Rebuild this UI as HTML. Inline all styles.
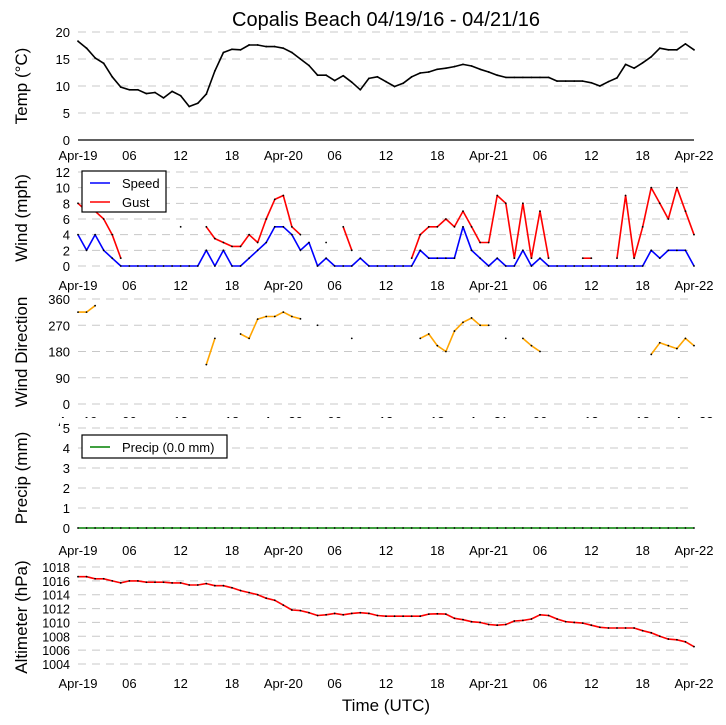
<!DOCTYPE html>
<html><head><meta charset="utf-8"><style>
html,body{margin:0;padding:0;background:#fff;}
svg{display:block;font-family:"Liberation Sans","DejaVu Sans",sans-serif;}
</style></head><body>
<svg id="chart" width="726" height="725" viewBox="0 0 726 725" xmlns="http://www.w3.org/2000/svg">
<rect width="726" height="725" fill="#fff"/>
<text x="386" y="26" font-size="20" text-anchor="middle">Copalis Beach 04/19/16 - 04/21/16</text>
<text x="386" y="711" font-size="17" text-anchor="middle">Time (UTC)</text>
<g id="layer"></g>
</svg>
<script>
// hourly samples, hour 0 = Apr-19 00 UTC, 72 = Apr-22 00 UTC
const xTickLabels = ["Apr-19","06","12","18","Apr-20","06","12","18","Apr-21","06","12","18","Apr-22"];
const temp = [18.3,17,15.2,14.2,11.7,9.8,9.3,9.3,8.6,8.8,7.8,9.0,8.2,6.2,6.8,8.5,12.8,16.2,16.8,16.7,17.6,17.6,17.3,17.3,17,16.2,15,13.8,12,12,11,11.9,10.7,9.3,11.4,11.7,10.8,9.9,10.5,11.7,12.4,12.6,13.1,13.3,13.6,14.0,13.7,13.1,12.6,12,11.6,11.6,11.6,11.6,11.6,11.6,10.9,10.9,10.9,10.9,10.6,10.0,10.8,11.5,14,13.3,14.3,15.4,17,16.7,16.7,17.8,16.7];
const windSpeed = [4,2,4,2,1,0,0,0,0,0,0,0,0,0,0,2,0,2,0,0,1,2,3,5,5,4,2,3,0,1,0,0,0,1,0,0,0,0,0,0,2,1,1,1,1,5,2,1,0,1,0,0,2,0,1,0,0,0,0,0,0,0,0,0,0,0,0,2,1,2,2,2,0];
const windGust = [8,7,7,6,4,1,null,null,null,null,null,null,5,null,null,5,3.5,3,2.5,2.5,4,3,6,8.5,9,5,4,null,null,3,null,5,2,null,null,null,null,null,null,1,4,5,5,6,5,7,5,3,3,9,8,1,8,1,7,1,null,null,null,1,1,null,null,1,9,1,5,10,8,6,10,7,4];
const windDir = [315,315,337,null,null,null,null,null,null,null,null,null,null,null,null,135,225,null,null,240,225,291,300,300,315,300,292,null,270,null,null,null,225,null,null,null,null,null,null,null,225,240,200,180,250,280,295,270,270,null,225,null,225,200,180,null,null,null,null,null,null,null,null,null,null,null,null,170,210,200,190,225,200];
const precip = new Array(73).fill(0);
const altimeter = [1016.6,1016.6,1016.3,1016.3,1016.0,1015.7,1016.0,1016.0,1015.8,1015.8,1015.8,1015.7,1015.7,1015.4,1015.4,1015.6,1015.3,1015.3,1015.0,1014.6,1014.3,1014.0,1013.5,1013.2,1012.5,1011.8,1011.7,1011.4,1011.0,1011.1,1011.3,1011.1,1011.3,1011.4,1011.3,1011.0,1010.9,1010.9,1010.9,1010.9,1010.9,1011.2,1011.25,1011.2,1010.6,1010.4,1010.1,1010.0,1009.7,1009.6,1009.7,1010.2,1010.3,1010.5,1011.1,1011.0,1010.5,1010.1,1010.0,1009.9,1009.6,1009.3,1009.2,1009.2,1009.2,1009.2,1008.8,1008.5,1008.0,1007.6,1007.5,1007.2,1006.5];
const tempTicks=[0,5,10,15,20], windTicks=[0,2,4,6,8,10,12], dirTicks=[0,90,180,270,360], precipTicks=[0,1,2,3,4,5], altTicks=[1004,1006,1008,1010,1012,1014,1016,1018];

const NS="http://www.w3.org/2000/svg";
const layer=document.getElementById('layer');
const X0=78, X1=694;
function xs(h){return X0+(X1-X0)*h/72;}
function mk(tag,attrs,parent){const e=document.createElementNS(NS,tag);for(const k in attrs)e.setAttribute(k,attrs[k]);(parent||layer).appendChild(e);return e;}
function scaleY(v0,v1,y0,y1){return v=>y0+(v-v0)*(y1-y0)/(v1-v0);}

function panel(name,ticks,ys,titleText,titleY,labelY,fs){
  const g=mk('g',{});
  
  
  ticks.forEach(t=>{
    const l=mk('line',{x1:X0,x2:X1,y1:ys(t),y2:ys(t),stroke:'#c8c8c8','stroke-width':1,'stroke-dasharray':'8,6'},g);
    
    
    const tx=mk('text',{x:70,y:ys(t)+5,'font-size':fs||13,'text-anchor':'end'},g);
    
    
    tx.textContent=t;
  });
  const tt=mk('text',{x:0,y:0,'font-size':17,'text-anchor':'middle',transform:'translate(27,'+titleY+') rotate(-90)'},g);
  
  
  tt.textContent=titleText;
  if(labelY!==null){
    xTickLabels.forEach((s,i)=>{
      const t=mk('text',{x:xs(i*6),y:labelY,'font-size':13,'text-anchor':'middle'},g);
      
      
      t.textContent=s;
    });
  }
  return g;
}
function series(name,data,ys,color){
  const g=mk('g',{});
  
  
  let seg=[];
  const flush=()=>{ if(seg.length>1){const p=mk('polyline',{points:seg.join(' '),fill:'none',stroke:color,'stroke-width':1.6,'stroke-linejoin':'round'},g);
      
      } seg=[]; };
  data.forEach((v,i)=>{ if(v===null||v===undefined){flush();return;} seg.push(xs(i).toFixed(1)+','+ys(v).toFixed(1)); });
  flush();
  data.forEach((v,i)=>{ if(v===null||v===undefined)return;
    const c=mk('circle',{cx:xs(i),cy:ys(v),r:0.9,fill:'#000'},g);
    
    
  });
}

// Temp
const yT=scaleY(0,20,140,32);
panel('temp',tempTicks,yT,'Temp (\u00B0C)',86,160);
const ax=mk('line',{x1:X0,x2:X1,y1:140,y2:140,stroke:'#000','stroke-width':1.2});


series('temp',temp,yT,'#000');

// Wind
const yW=scaleY(0,12,266,172);
panel('wind',windTicks,yW,'Wind (mph)',218,290);
series('gust',windGust,yW,'#ff0000');
series('speed',windSpeed,yW,'#0000ff');

// Direction
const yD=scaleY(0,360,404,299);
panel('direction',dirTicks,yD,'Wind Direction',352,426);
series('direction',windDir,yD,'#ffa500');
const cover=mk('rect',{x:60,y:418,width:660,height:13,fill:'#fff'});



// Precip
const yP=scaleY(0,5,528,428);
panel('precip',precipTicks,yP,'Precip (mm)',478,555);
series('precip',precip,yP,'#008000');

// Altimeter
const yA=scaleY(1004,1018,664,567);
panel('altimeter',altTicks,yA,'Altimeter (hPa)',617,688,12.5);
series('altimeter',altimeter,yA,'#ff0000');

// Legends
function legend(name,x,y,w,h,entries){
  const g=mk('g',{});
  
  
  mk('rect',{x:x,y:y,width:w,height:h,fill:'#fff',stroke:'#000','stroke-width':1.2},g);
  entries.forEach((e,i)=>{
    const cy=y+12+i*19;
    const l=mk('line',{x1:x+8,x2:x+28,y1:cy,y2:cy,stroke:e[1],'stroke-width':1.6},g);
    
    
    const t=mk('text',{x:x+40,y:cy+5,'font-size':13},g);
    
    
    t.textContent=e[0];
  });
}
legend('wind-legend',82,171,84,41,[['Speed','#0000ff'],['Gust','#ff0000']]);
legend('precip-legend',82,435,145,23,[['Precip (0.0 mm)','#008000']]);
</script>
</body></html>
